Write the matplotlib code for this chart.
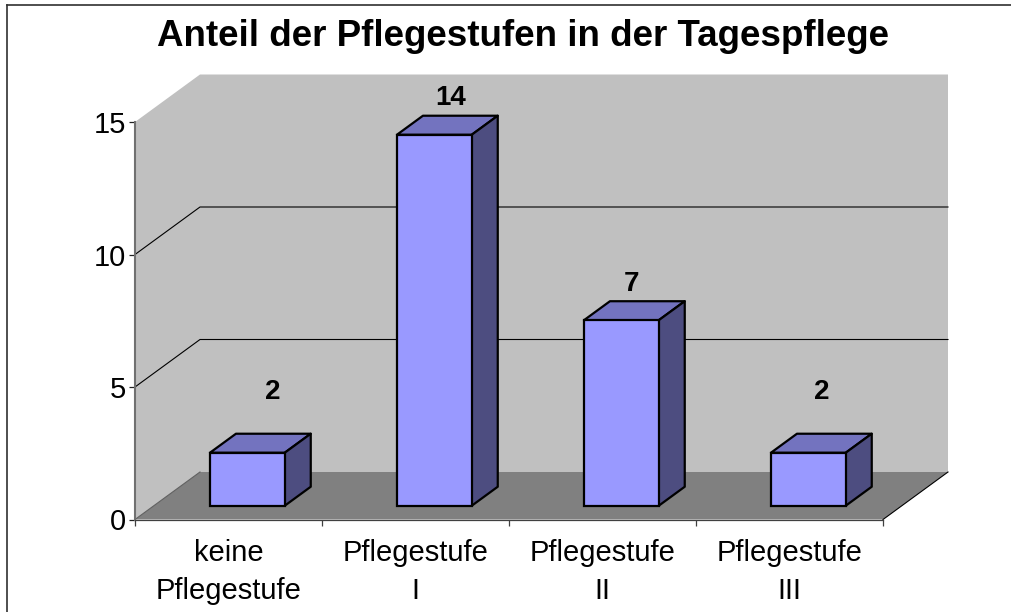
import matplotlib
matplotlib.use("Agg")
import matplotlib.pyplot as plt
import numpy as np
from matplotlib.lines import Line2D
from matplotlib.patches import Polygon

plt.rcParams["font.family"] = ["Liberation Sans", "DejaVu Sans"]

TITLE = "Anteil der Pflegestufen in der Tagespflege"
categories = ["keine\nPflegestufe", "Pflegestufe\nI", "Pflegestufe\nII", "Pflegestufe\nIII"]
values = [2, 14, 7, 2]
y_ticks = [0, 5, 10, 15]

WALL = "#c0c0c0"
FLOOR = "#808080"
FRONT = "#9999ff"
TOP = "#7373bf"
SIDE = "#4d4d80"

# depth of the fake 3d box, in data units
DX = 65 / 187
DY = 47.5 / 26.5
BAR_WIDTH = 0.4

fig = plt.figure(figsize=(10.12, 6.12), dpi=100)
ax = fig.add_axes([135 / 1012, (612 - 519.5) / 612, 748 / 1012, 397.5 / 612])
ax.set_xlim(0, 4)
ax.set_ylim(0, 15)
ax.patch.set_visible(False)

n = len(categories)
y_max = y_ticks[-1]

# walls and floor
ax.add_patch(Polygon([(0, 0), (0, y_max), (DX, y_max + DY), (n + DX, y_max + DY), (n + DX, DY), (DX, DY)],
                     closed=True, fc=WALL, ec="none", clip_on=False, zorder=1))
ax.add_patch(Polygon([(0, 0), (n, 0), (n + DX, DY), (DX, DY)],
                     closed=True, fc=FLOOR, ec="none", clip_on=False, zorder=1))
ax.plot([n, n + DX], [0, DY], color="black", lw=0.8, clip_on=False, zorder=2)
ax.plot([0, DX], [0, DY], color="#606060", lw=0.8, clip_on=False, zorder=2)

# gridlines on the back wall and the left wall
for tick in y_ticks[1:-1]:
    ax.plot([0, DX, n + DX], [tick, tick + DY, tick + DY], color="black", lw=0.8, clip_on=False, zorder=2)

# bars
x = np.arange(n) + 0.5
front_shift = 0.29
bar_depth = 0.4
x0 = x + front_shift * DX
y0 = front_shift * DY
sx = bar_depth * DX
sy = bar_depth * DY
ax.bar(x0, values, width=BAR_WIDTH, bottom=y0, color=FRONT, edgecolor="black", linewidth=1.6, clip_on=False, zorder=4)
for xc, val in zip(x0, values):
    left = xc - BAR_WIDTH / 2
    right = xc + BAR_WIDTH / 2
    top = y0 + val
    ax.add_patch(Polygon([(left, top), (right, top), (right + sx, top + sy), (left + sx, top + sy)],
                         closed=True, fc=TOP, ec="black", lw=1.6, joinstyle="round", clip_on=False, zorder=3))
    ax.add_patch(Polygon([(right, y0), (right + sx, y0 + sy), (right + sx, top + sy), (right, top)],
                         closed=True, fc=SIDE, ec="black", lw=1.6, joinstyle="round", clip_on=False, zorder=3))

# value labels sit by hand in the original, offsets in pixels from the front top centre
label_offsets = [(25, 61), (16, 37), (10, 36), (13, 61)]
for xc, val, off in zip(x0, values, label_offsets):
    ax.annotate(str(val), (xc, y0 + val), xytext=off, textcoords="offset pixels", ha="center", va="center",
                fontsize=20, fontweight="bold", color="black", annotation_clip=False, zorder=5)

# axes
for name in ["top", "right"]:
    ax.spines[name].set_visible(False)
ax.spines["left"].set_color("#707070")
ax.spines["left"].set_linewidth(1.5)
ax.spines["left"].set_zorder(3)
ax.spines["bottom"].set_color("#404040")
ax.spines["bottom"].set_linewidth(0.9)
ax.spines["bottom"].set_zorder(3)
ax.set_yticks(y_ticks)
ax.set_xticks(np.arange(n + 1))
ax.set_xticklabels([])
ax.set_xticks(x, labels=categories, minor=True)
ax.tick_params(axis="x", which="major", length=4.5, width=0.9, color="#404040")
ax.tick_params(axis="x", which="minor", length=0, pad=14, labelsize=21)
for label in ax.get_xticklabels(minor=True):
    label.set_linespacing(1.44)
ax.tick_params(axis="y", length=4.5, width=0.9, color="#202020", labelsize=21, pad=2)

# title placed in figure coordinates
fig.text(523.5 / 1012, 1 - 37 / 612, TITLE, fontsize=26.5, fontweight="bold", ha="center", va="center")

# chart frame, only the top and left edges are in the picture
fig.add_artist(Line2D([7 / 1012, 7 / 1012], [0, 1 - 5 / 612], color="#303030", lw=1.2))
fig.add_artist(Line2D([7 / 1012, 1], [1 - 5 / 612, 1 - 5 / 612], color="#303030", lw=1.2))

fig.savefig("out.png", dpi=100)
